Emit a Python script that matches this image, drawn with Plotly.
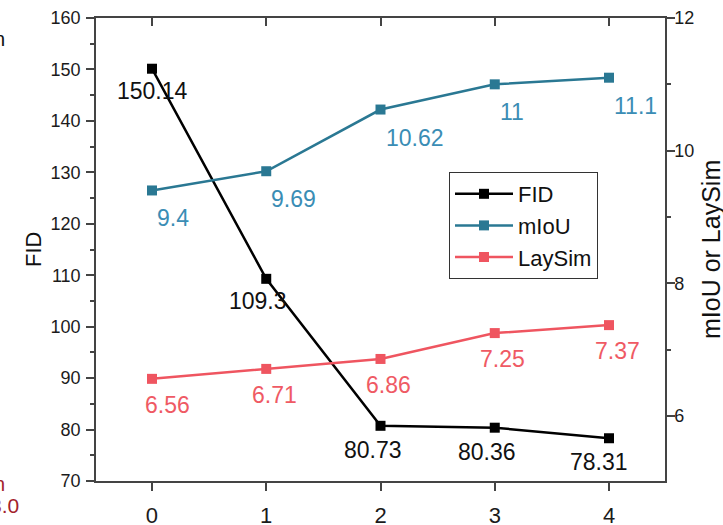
import plotly.graph_objects as go

steps = [0, 1, 2, 3, 4]
fid = [150.14, 109.3, 80.73, 80.36, 78.31]
miou = [9.4, 9.69, 10.62, 11, 11.1]
laysim = [6.56, 6.71, 6.86, 7.25, 7.37]
fid_labels = ["150.14", "109.3", "80.73", "80.36", "78.31"]
miou_labels = ["9.4", "9.69", "10.62", "11", "11.1"]
laysim_labels = ["6.56", "6.71", "6.86", "7.25", "7.37"]
left_ticks = [70, 80, 90, 100, 110, 120, 130, 140, 150, 160]
right_ticks = [6, 8, 10, 12]

FONT = "Liberation Sans, Arial, sans-serif"
C_FID = "#000000"
C_MIOU = "#2a7893"
C_LAY = "#ef5560"
C_MIOU_T = "#3a8db5"
C_LAY_T = "#ef5a64"
TICKC = "#1b1b1b"
AXC = "#444444"

W, H = 723, 525
# plot area in window pixel coordinates
L, R, T, B = 96, 665, 18, 481


def px(xp):
    return (xp - L) / (R - L)


def py(yp):
    return (B - yp) / (B - T)


fig = go.Figure()
fig.add_trace(go.Scatter(x=steps, y=fid, name="FID", mode="lines+markers",
                         line=dict(color=C_FID, width=2.5),
                         marker=dict(symbol="square", size=10, color=C_FID)))
fig.add_trace(go.Scatter(x=steps, y=miou, name="mIoU", mode="lines+markers", yaxis="y2",
                         line=dict(color=C_MIOU, width=2.5),
                         marker=dict(symbol="square", size=10, color=C_MIOU)))
fig.add_trace(go.Scatter(x=steps, y=laysim, name="LaySim", mode="lines+markers", yaxis="y2",
                         line=dict(color=C_LAY, width=2.5),
                         marker=dict(symbol="square", size=10, color=C_LAY)))
# dummy trace to draw the top axis inside ticks
fig.add_trace(go.Scatter(x=[None], y=[None], xaxis="x2", showlegend=False, hoverinfo="skip"))

ann = []
fid_dx = [1, -8, -8, -8, -10]
fid_dy = [-22, -22, -24, -24, -24]
for i, (xv, yv, t) in enumerate(zip(steps, fid, fid_labels)):
    ann.append(dict(x=xv, y=yv, xref="x", yref="y", text=t, showarrow=False,
                    xshift=fid_dx[i], yshift=fid_dy[i], xanchor="center", yanchor="middle",
                    font=dict(family=FONT, size=23, color="#111111")))
for i, (xv, yv, t) in enumerate(zip(steps, miou, miou_labels)):
    ann.append(dict(x=xv, y=yv, xref="x", yref="y2", text=t, showarrow=False,
                    xshift=3, yshift=-28, xanchor="left", yanchor="middle",
                    font=dict(family=FONT, size=23, color=C_MIOU_T)))
lay_dx = [16, 8, 8, 8, 8]
for i, (xv, yv, t) in enumerate(zip(steps, laysim, laysim_labels)):
    ann.append(dict(x=xv, y=yv, xref="x", yref="y2", text=t, showarrow=False,
                    xshift=lay_dx[i], yshift=-26, xanchor="center", yanchor="middle",
                    font=dict(family=FONT, size=23, color=C_LAY_T)))

# axis titles
ann.append(dict(x=px(33), y=py(250), xref="paper", yref="paper", text="FID", textangle=-90,
                showarrow=False, xanchor="center", yanchor="middle",
                font=dict(family=FONT, size=22, color="#111111")))
ann.append(dict(x=px(711), y=py(250), xref="paper", yref="paper", text="mIoU or LaySim",
                textangle=-90, showarrow=False, xanchor="center", yanchor="middle",
                font=dict(family=FONT, size=25, color="#111111")))
# cropped fragments at left edge
ann.append(dict(x=px(7), y=py(39), xref="paper", yref="paper", text="n", showarrow=False,
                xanchor="right", yanchor="middle", font=dict(family=FONT, size=20, color="#111111")))
ann.append(dict(x=px(7), y=py(484), xref="paper", yref="paper", text="n", showarrow=False,
                xanchor="right", yanchor="middle", font=dict(family=FONT, size=20, color="#a3222b")))
ann.append(dict(x=px(21), y=py(505), xref="paper", yref="paper", text="3.0", showarrow=False,
                xanchor="right", yanchor="middle", font=dict(family=FONT, size=21, color="#a3222b")))

fig.update_layout(
    width=W, height=H,
    margin=dict(l=L, r=W - R, t=T, b=H - B, pad=0, autoexpand=False),
    paper_bgcolor="white", plot_bgcolor="white",
    font=dict(family=FONT, color=TICKC),
    showlegend=True,
    legend=dict(x=px(449), y=py(172), xanchor="left", yanchor="top",
                bgcolor="white", bordercolor="#333333", borderwidth=1,
                font=dict(family=FONT, size=22, color="#111111"),
                tracegroupgap=0, itemwidth=58),
    xaxis=dict(range=[-0.49, 4.49], tickvals=steps, ticktext=[str(s) for s in steps],
               ticks="outside", ticklen=8, tickwidth=1.5, tickcolor=AXC, ticklabelstandoff=6,
               showline=True, linecolor=AXC, linewidth=1.5, mirror=True,
               showgrid=False, zeroline=False, automargin=False,
               tickfont=dict(family=FONT, size=22, color=TICKC)),
    xaxis2=dict(range=[-0.49, 4.49], overlaying="x", side="top", tickvals=steps,
                ticks="inside", ticklen=8, tickwidth=1.5, tickcolor=AXC, automargin=False,
                showticklabels=False, showline=False, showgrid=False, zeroline=False),
    yaxis=dict(range=[70, 160], tickvals=left_ticks,
               ticks="outside", ticklen=8, tickwidth=1.5, tickcolor=AXC, ticklabelstandoff=2,
               minor=dict(dtick=5, tick0=70, ticks="outside", ticklen=4, tickwidth=1.5, tickcolor=AXC),
               showline=True, linecolor=AXC, linewidth=1.5, automargin=False,
               showgrid=False, zeroline=False,
               tickfont=dict(family=FONT, size=18, color=TICKC)),
    yaxis2=dict(range=[5.02, 12], tickvals=right_ticks, overlaying="y", side="right",
                ticks="outside", ticklen=8, tickwidth=1.5, tickcolor=AXC, automargin=False,
                ticklabelstandoff=-4,
                minor=dict(dtick=1, tick0=0, ticks="outside", ticklen=4, tickwidth=1.5, tickcolor=AXC),
                showline=True, linecolor=AXC, linewidth=1.5,
                showgrid=False, zeroline=False,
                tickfont=dict(family=FONT, size=18, color=TICKC)),
    annotations=ann,
)

fig.write_html("out.html", config={"displayModeBar": False},
               post_script="document.body.style.margin='0';document.body.style.overflow='hidden';")
